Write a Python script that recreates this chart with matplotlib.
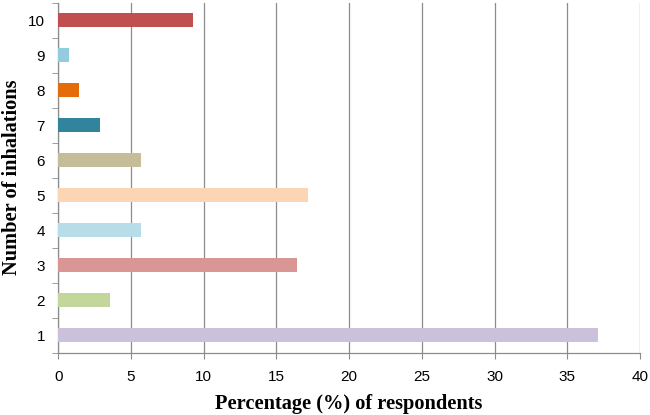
import matplotlib
matplotlib.use('Agg')
import matplotlib.pyplot as plt
import numpy as np

# number of inhalations vs share of respondents
inhalations = ['1', '2', '3', '4', '5', '6', '7', '8', '9', '10']
percent = [37.14, 3.57, 16.43, 5.71, 17.14, 5.71, 2.86, 1.43, 0.71, 9.29]
colors = ['#CCC1DA', '#C3D69B', '#D99694', '#B7DEE8', '#FCD5B5',
          '#C4BD97', '#31849B', '#E46C0A', '#93CDDD', '#C0504D']
xticks = [0, 5, 10, 15, 20, 25, 30, 35, 40]

fig = plt.figure(figsize=(6.5, 4.15), dpi=100)
ax = fig.add_axes([0.0897, 0.15, 0.895, 0.8435])

y = np.arange(1, len(inhalations) + 1)
ax.barh(y, percent, height=0.4, color=colors, zorder=3)

ax.set_xlim(0, 40)
ax.set_ylim(0.5, 10.5)
ax.set_xticks(xticks)
ax.set_yticks(y)
ax.set_yticklabels(inhalations)
ax.set_yticks(np.arange(0.5, 11, 1), minor=True)

ax.grid(axis='x', color='#8c8c8c', linewidth=0.9, zorder=0)
for s in ['top', 'right']:
    ax.spines[s].set_visible(False)
for s in ['left', 'bottom']:
    ax.spines[s].set_color('#8c8c8c')
    ax.spines[s].set_linewidth(0.9)

tickfont = 'Liberation Sans'
ax.tick_params(axis='y', which='major', length=0, pad=9.5)
ax.tick_params(axis='y', which='minor', length=4.5, color='#8c8c8c')
ax.tick_params(axis='x', length=4.5, color='#8c8c8c', pad=8)
for lab in ax.get_xticklabels() + ax.get_yticklabels():
    lab.set_fontfamily(tickfont)
    lab.set_fontsize(11)

ax.set_xlabel('Percentage (%) of respondents', fontfamily='Liberation Serif',
              fontweight='bold', fontsize=14.7, labelpad=7)
ax.set_ylabel('Number of inhalations', fontfamily='Liberation Serif',
              fontweight='bold', fontsize=14.7)
ax.yaxis.set_label_coords(-0.0625, 0.5)

fig.savefig('out.png', dpi=100)
